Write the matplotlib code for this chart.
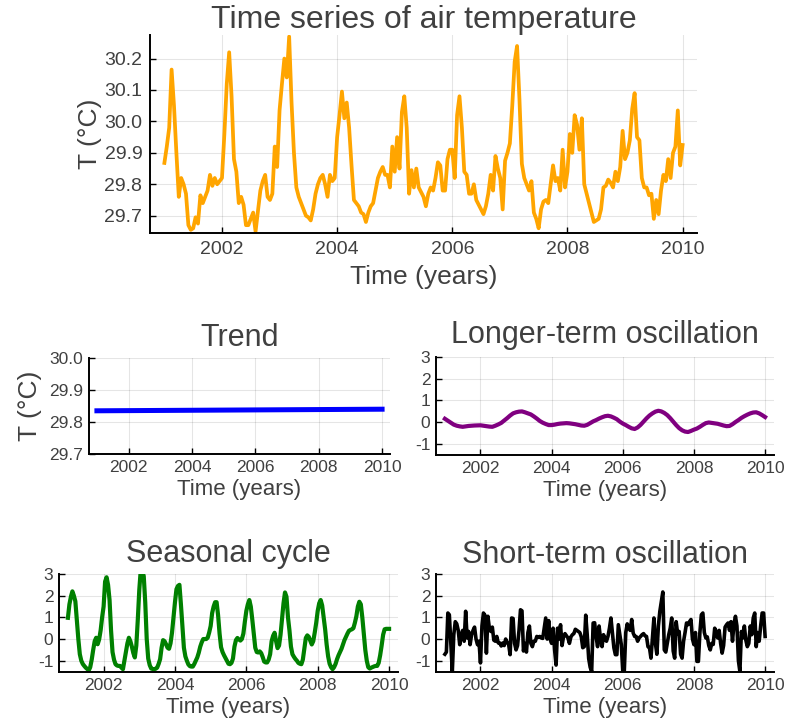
import matplotlib.pyplot as plt
import numpy as np

plt.rcParams['font.family'] = ['Liberation Sans', 'DejaVu Sans']

# Air temperature (deg C), two samples per month, Jan 2001 .. Jan 2010
air_temp = [
    29.868, 29.92, 29.98, 30.165, 30.05, 29.90, 29.76, 29.82, 29.80, 29.77, 29.67, 29.655,
    29.66, 29.695, 29.675, 29.765, 29.74, 29.76, 29.78, 29.83, 29.795, 29.82, 29.80, 29.81,
    29.82, 29.96, 30.12, 30.22, 30.08, 29.88, 29.84, 29.74, 29.76, 29.735, 29.67, 29.67,
    29.69, 29.71, 29.65, 29.715, 29.78, 29.81, 29.83, 29.76, 29.75, 29.77, 29.92, 29.855,
    30.035, 30.12, 30.20, 30.14, 30.27, 30.06, 29.90, 29.79, 29.76, 29.74, 29.72, 29.70,
    29.695, 29.685, 29.72, 29.77, 29.80, 29.82, 29.83, 29.80, 29.76, 29.83, 29.81, 29.82,
    29.95, 30.02, 30.095, 30.01, 30.06, 29.98, 29.86, 29.75, 29.74, 29.73, 29.71, 29.705,
    29.68, 29.71, 29.73, 29.74, 29.78, 29.82, 29.84, 29.855, 29.83, 29.83, 29.79, 29.92,
    29.84, 29.95, 29.85, 30.03, 30.08, 29.98, 29.77, 29.845, 29.79, 29.85, 29.79, 29.775,
    29.76, 29.73, 29.77, 29.79, 29.78, 29.82, 29.87, 29.86, 29.78, 29.78, 29.88, 29.91,
    29.91, 29.82, 30.02, 30.08, 29.98, 29.84, 29.83, 29.77, 29.77, 29.80, 29.75, 29.735,
    29.72, 29.705, 29.73, 29.77, 29.83, 29.78, 29.89, 29.85, 29.82, 29.72, 29.875, 29.90,
    29.93, 30.05, 30.19, 30.24, 30.07, 29.865, 29.82, 29.80, 29.78, 29.81, 29.71, 29.69,
    29.66, 29.72, 29.745, 29.75, 29.74, 29.80, 29.86, 29.81, 29.82, 29.78, 29.91, 29.79,
    29.84, 29.96, 29.90, 30.02, 29.99, 29.91, 30.01, 29.80, 29.77, 29.74, 29.71, 29.68,
    29.685, 29.69, 29.72, 29.79, 29.795, 29.815, 29.805, 29.79, 29.84, 29.81, 29.855, 29.97,
    29.88, 29.90, 29.94, 30.04, 30.09, 29.95, 29.94, 29.82, 29.79, 29.79, 29.765, 29.77,
    29.69, 29.75, 29.705, 29.78, 29.83, 29.81, 29.88, 29.82, 29.90, 29.92, 30.035, 29.86,
    29.925,
]

# Trend (straight line) end points
trend_years = [2001, 2010]
trend_temp = [29.835, 29.840]

# Longer-term oscillation, monthly
longer_term = [
    0.15, 0.06, -0.03, -0.12, -0.17, -0.20, -0.22, -0.20, -0.18, -0.17, -0.16, -0.155,
    -0.15, -0.17, -0.19, -0.21, -0.22, -0.17, -0.11, -0.04, 0.07, 0.18, 0.30, 0.40,
    0.45, 0.48, 0.49, 0.45, 0.40, 0.35, 0.26, 0.16, 0.05, -0.03, -0.09, -0.14,
    -0.14, -0.12, -0.09, -0.07, -0.06, -0.05, -0.06, -0.08, -0.10, -0.13, -0.16, -0.17,
    -0.13, -0.05, 0.03, 0.09, 0.16, 0.22, 0.27, 0.29, 0.26, 0.20, 0.13, 0.02,
    -0.07, -0.14, -0.22, -0.29, -0.32, -0.25, -0.13, 0.02, 0.17, 0.30, 0.40, 0.48,
    0.52, 0.49, 0.42, 0.32, 0.18, 0.02, -0.14, -0.28, -0.38, -0.44, -0.46, -0.41,
    -0.35, -0.30, -0.22, -0.13, -0.05, -0.02, -0.04, -0.06, -0.08, -0.12, -0.16, -0.19,
    -0.18, -0.10, 0.00, 0.09, 0.19, 0.27, 0.34, 0.40, 0.44, 0.45, 0.40, 0.32,
    0.23,
]

# Seasonal cycle, two samples per month
seasonal = [
    0.98, 1.6, 1.95, 2.2, 2.0, 1.74, 0.9, 0.0, -0.7, -1.0, -1.15, -1.24,
    -1.32, -1.38, -1.45, -1.3, -0.95, -0.5, -0.1, 0.06, -0.24, -0.02, 0.4, 1.0,
    1.5, 2.65, 2.85, 2.5, 1.8, 0.4, -0.6, -0.95, -1.16, -1.22, -1.24, -1.24,
    -1.32, -1.39, -1.0, -0.6, -0.2, 0.06, -0.1, -0.35, -0.65, -0.85, -0.3, 0.9,
    2.27, 3.2, 3.15, 2.9, 1.7, 0.0, -0.9, -1.2, -1.36, -1.38, -1.39, -1.37,
    -1.32, -1.15, -0.93, -0.4, -0.05, -0.1, -0.24, -0.4, -0.45, -0.2, 0.29, 1.0,
    1.7, 2.3, 2.45, 2.5, 1.6, 0.6, -0.4, -0.8, -1.0, -1.17, -1.25, -1.27,
    -1.27, -1.15, -1.0, -0.85, -0.63, -0.35, -0.15, 0.0, 0.0, 0.0, 0.06, 0.3,
    0.6, 1.2, 1.5, 1.7, 1.7, 1.1, 0.25, -0.38, -0.6, -0.75, -0.88, -1.0,
    -1.14, -1.16, -1.1, -0.9, -0.35, -0.05, 0.05, -0.02, -0.07, 0.0, 0.25, 0.8,
    1.3, 1.6, 1.8, 1.5, 0.9, 0.25, -0.4, -0.6, -0.62, -0.57, -0.65, -0.83,
    -1.04, -1.08, -1.08, -0.95, -0.7, -0.1, 0.15, 0.29, -0.1, -0.42, -0.3, 0.2,
    0.95, 1.65, 2.15, 1.95, 1.0, 0.4, -0.35, -0.7, -0.82, -0.92, -1.0, -1.1,
    -1.14, -1.16, -0.95, -0.45, 0.05, 0.17, 0.1, -0.08, -0.25, -0.1, 0.3, 0.75,
    1.3, 1.65, 1.8, 1.55, 1.0, 0.45, -0.25, -0.8, -1.14, -1.3, -1.39, -1.3,
    -1.15, -0.93, -0.75, -0.6, -0.45, -0.25, -0.05, 0.1, 0.25, 0.38, 0.42, 0.45,
    0.5, 0.75, 1.05, 1.5, 1.72, 1.6, 1.0, 0.25, -0.5, -1.0, -1.3, -1.36,
    -1.32, -1.29, -1.26, -1.24, -1.24, -1.1, -0.75, -0.3, 0.2, 0.45, 0.47, 0.47,
    0.47,
]

# Short-term oscillation, two samples per month
short_term = [
    -0.7, -0.6, 1.2, 1.12, -0.2, -1.5, 0.2, 0.8, 0.7, 0.4, -0.26, 0.2,
    0.4, -0.1, 1.28, 0.05, 0.35, -0.26, 0.2, 0.4, 0.55, 0.0, -0.26, -0.1,
    -1.1, 0.6, 1.2, 1.1, -0.65, 1.05, 0.5, 0.35, 0.55, -0.05, -0.1, 0.12,
    -0.18, -0.18, -0.32, -0.18, -0.3, 0.0, -0.15, -0.25, -0.72, 0.97, 0.95, -0.2,
    -0.5, -0.3, 0.4, 1.35, 1.3, -0.55, -0.2, -0.6, 0.3, 0.6, -0.2, -0.35,
    -0.1, -0.1, 0.12, 0.08, 0.12, 0.05, 0.03, 0.5, 0.97, 0.0, 0.85, 0.0,
    -0.2, 0.5, -0.5, -1.2, 0.5, 0.0, 0.66, -0.3, 0.1, 0.25, 0.15, 0.05,
    -0.2, 0.1, 0.2, 0.25, 0.45, 0.4, 0.35, 0.3, 0.1, -0.4, -0.35, 1.1,
    0.2, -0.9, -1.3, -1.5, 0.74, 0.75, 0.1, -0.35, 0.6, 0.0, -0.35, 0.2,
    0.0, -0.1, 0.12, 0.5, 0.97, 0.3, -0.4, -0.72, -0.72, 0.66, 0.2, -0.26,
    -1.5, -1.5, 0.3, 0.7, 0.5, 0.4, 0.9, 0.28, 0.12, 0.12, -0.1, 0.05,
    0.12, 0.2, 0.25, 0.15, 0.12, -0.35, -0.4, -0.88, 0.05, 0.97, -0.2, -0.7,
    0.6, 1.28, 1.74, 2.17, -0.5, -0.6, -0.2, 0.2, 0.5, 0.97, -0.55, -0.88,
    0.8, 0.25, 0.35, -0.7, -0.88, -0.1, 0.3, 0.74, 0.66, 0.8, 0.9, 0.0,
    -0.26, 0.3, -1.03, -1.03, 0.3, 1.12, 1.2, 0.3, 0.05, 0.1, -0.3, -0.5,
    -0.2, -0.25, 0.5, 0.35, 0.05, 0.4, -0.2, -0.65, -0.3, 0.55, 0.66, 0.74,
    0.4, 0.8, -0.1, 0.7, 1.05, 0.6, -1.0, -1.5, 0.35, 0.05, 0.6, -0.05,
    -0.35, -0.2, 0.6, 0.2, 0.97, 1.2, -0.35, 0.3, -0.1, 0.6, 1.2, 1.2,
    0.12,
]

t_half = 2001 + np.arange(len(air_temp)) / 24
t_month = 2001 + np.arange(len(longer_term)) / 12

year_ticks = [2002, 2004, 2006, 2008, 2010]
top_yticks = [29.7, 29.8, 29.9, 30.0, 30.1, 30.2]
trend_yticks = [29.7, 29.8, 29.9, 30.0]
comp_yticks = [-1, 0, 1, 2, 3]

text_color = '#404040'
W, H = 785, 726

fig = plt.figure(figsize=(7.85, 7.26), dpi=100)


def make_axes(left, top, right, bottom):
    return fig.add_axes([left / W, 1 - bottom / H, (right - left) / W, (bottom - top) / H])


def style(ax, size, pad):
    for s in ['top', 'right']:
        ax.spines[s].set_visible(False)
    for s in ['left', 'bottom']:
        ax.spines[s].set_linewidth(1.4)
        ax.spines[s].set_color('black')
    ax.grid(True, color='black', alpha=0.1, linewidth=0.8)
    ax.set_axisbelow(True)
    ax.tick_params(direction='in', length=4, width=1, labelsize=size,
                   labelcolor=text_color, pad=pad)
    ax.set_xlim(2000.75, 2010.25)
    ax.set_xticks(year_ticks)
    ax.set_xticklabels([str(y) for y in year_ticks])


# Top: full time series
ax0 = make_axes(150, 35, 697, 233)
ax0.plot(t_half, air_temp, color='orange', linewidth=2.7)
style(ax0, 14, 5.5)
ax0.set_ylim(29.645, 30.275)
ax0.set_yticks(top_yticks)
ax0.set_yticklabels([f'{v:.1f}' for v in top_yticks])
ax0.set_title('Time series of air temperature', fontsize=23, color=text_color, pad=0)
ax0.set_xlabel('Time (years)', fontsize=19, color=text_color, labelpad=5)
ax0.set_ylabel('T (°C)', fontsize=19, color=text_color, labelpad=2)

# Trend
ax1 = make_axes(89, 358, 390, 454)
ax1.plot(trend_years, trend_temp, color='blue', linewidth=3.6)
style(ax1, 12.5, 4)
ax1.set_ylim(29.7, 30.0)
ax1.set_yticks(trend_yticks)
ax1.set_yticklabels([f'{v:.1f}' for v in trend_yticks])
ax1.set_title('Trend', fontsize=22, color=text_color, pad=9)
ax1.set_xlabel('Time (years)', fontsize=16, color=text_color, labelpad=3)
ax1.set_ylabel('T (°C)', fontsize=19, color=text_color, labelpad=5)

panels = [
    (436, 357, 774, 455, t_month, longer_term, 'purple', 'Longer-term oscillation', 10, 3.0),
    (59, 574, 398, 672, t_half, seasonal, 'green', 'Seasonal cycle', 8.5, 3.0),
    (436, 574, 774, 672, t_half, short_term, 'black', 'Short-term oscillation', 8, 2.6),
]
for left, top, right, bottom, t, vals, col, title, tpad, lw in panels:
    ax = make_axes(left, top, right, bottom)
    ax.plot(t, vals, color=col, linewidth=lw)
    style(ax, 12.5, 4)
    ax.set_ylim(-1.52, 3.0)
    ax.set_yticks(comp_yticks)
    ax.set_yticklabels([str(v) for v in comp_yticks])
    ax.set_title(title, fontsize=22, color=text_color, pad=tpad)
    ax.set_xlabel('Time (years)', fontsize=16, color=text_color, labelpad=3)

plt.savefig('out.png', dpi=100)
